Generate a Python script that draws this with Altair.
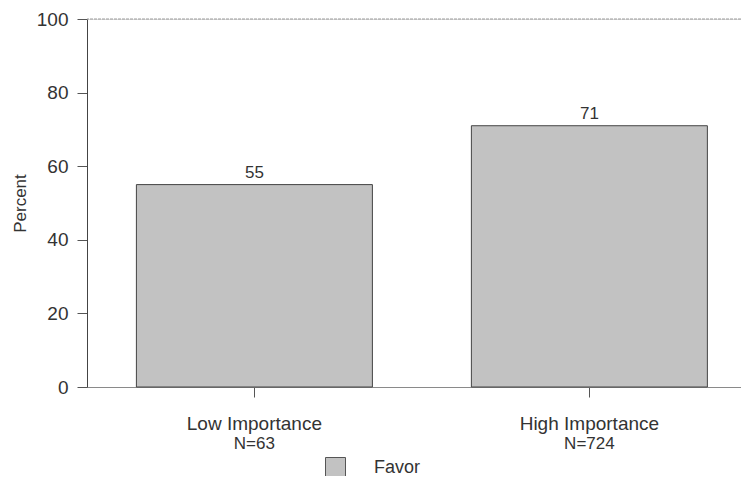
import altair as alt
import pandas as pd

categories = ["Low Importance", "High Importance"]
sample_sizes = ["N=63", "N=724"]
favor_pct = [55, 71]
series = ["Favor", "Favor"]
y_ticks = [0, 20, 40, 60, 80, 100]
top_line = [100]

df = pd.DataFrame({
    "group": categories,
    "n": sample_sizes,
    "pct": favor_pct,
    "series": series,
})
order = list(df["group"])

FONT = "Liberation Sans"
TXT = "#333333"
PLOT_H = 368

x_scale = alt.Scale(paddingInner=0.2955, paddingOuter=0.1239, align=0.595)

x_enc = alt.X(
    "group:N",
    sort=order,
    scale=x_scale,
    axis=alt.Axis(
        title=None,
        labelAngle=0,
        tickSize=10,
        tickColor="#555555",
        domainColor="#8a8a8a",
        labelPadding=17,
        labelFontSize=19,
        labelColor=TXT,
        labelFont=FONT,
    ),
)

y_enc = alt.Y(
    "pct:Q",
    scale=alt.Scale(domain=[0, 100], nice=False),
    axis=alt.Axis(
        title="Percent",
        values=y_ticks,
        grid=False,
        tickSize=10,
        tickColor="#555555",
        domainColor="#444444",
        labelPadding=9,
        labelFontSize=19,
        labelColor=TXT,
        labelFont=FONT,
        titleFont=FONT,
        titleFontSize=17,
        titleFontWeight="normal",
        titleColor=TXT,
        titlePadding=7,
    ),
)

bars = alt.Chart(df).mark_bar(stroke="#444444", strokeWidth=1).encode(
    x=x_enc,
    y=y_enc,
    color=alt.Color(
        "series:N",
        scale=alt.Scale(range=["#c2c2c2"]),
        legend=alt.Legend(
            title=None,
            orient="none",
            legendX=238,
            legendY=438,
            symbolType="square",
            symbolSize=400,
            symbolStrokeColor="#555555",
            symbolStrokeWidth=1,
            symbolOpacity=1,
            labelFontSize=18,
            labelFont=FONT,
            labelColor=TXT,
            labelOffset=28,
            padding=0,
        ),
    ),
)

labels = alt.Chart(df).mark_text(
    baseline="bottom", dy=-3, fontSize=17, font=FONT, color=TXT
).encode(x=alt.X("group:N", sort=order), y="pct:Q", text="pct:Q")

n_labels = alt.Chart(df).mark_text(
    baseline="alphabetic", fontSize=17, font=FONT, color=TXT
).encode(
    x=alt.X("group:N", sort=order),
    y=alt.value(PLOT_H + 62),
    text="n:N",
)

top_rule = alt.Chart(pd.DataFrame({"y": top_line})).mark_rule(
    color="#9a9a9a", strokeWidth=1, strokeDash=[3, 1]
).encode(y="y:Q")

chart = alt.layer(top_rule, bars, labels, n_labels).properties(
    width=654,
    height=PLOT_H,
    autosize=alt.AutoSizeParams(type="none"),
    padding={"left": 79, "top": 11, "right": 0, "bottom": 89},
).configure_view(stroke=None, clip=False).configure(background="white")

chart.save("out.html", embed_options={"renderer": "svg", "actions": False})
